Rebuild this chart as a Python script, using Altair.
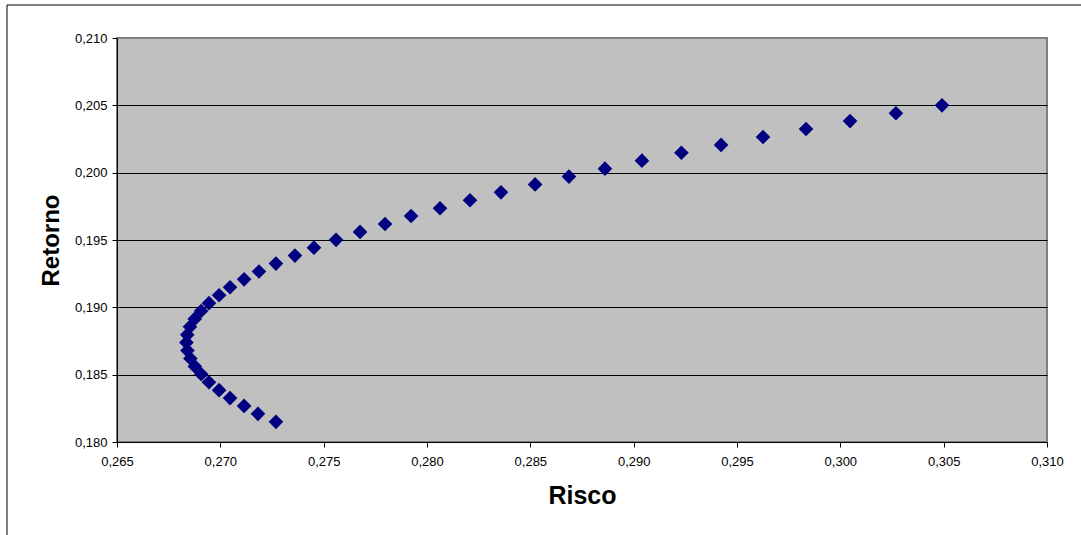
import altair as alt
import pandas as pd

# Efficient frontier points (bottom to top)
risco = [0.27269, 0.27182, 0.27115, 0.27047, 0.26994, 0.26945, 0.26908, 0.26877,
         0.26855, 0.26841, 0.26836, 0.26840, 0.26853, 0.26876, 0.26907, 0.26945,
         0.26994, 0.27047, 0.27115, 0.27187, 0.27269, 0.27361, 0.27453, 0.27560,
         0.27676, 0.27797, 0.27923, 0.28063, 0.28208, 0.28358, 0.28523, 0.28687,
         0.28861, 0.29040, 0.29231, 0.29423, 0.29626, 0.29834, 0.30047, 0.30269,
         0.30492]
retorno = [0.18150, 0.18209, 0.18268, 0.18326, 0.18385, 0.18444, 0.18503, 0.18561,
           0.18620, 0.18679, 0.18738, 0.18796, 0.18855, 0.18914, 0.18973, 0.19031,
           0.19090, 0.19149, 0.19208, 0.19266, 0.19325, 0.19384, 0.19443, 0.19501,
           0.19560, 0.19619, 0.19678, 0.19736, 0.19795, 0.19854, 0.19913, 0.19971,
           0.20030, 0.20089, 0.20148, 0.20206, 0.20265, 0.20324, 0.20383, 0.20441,
           0.20500]
x_ticks = [0.265, 0.270, 0.275, 0.280, 0.285, 0.290, 0.295, 0.300, 0.305, 0.310]
y_ticks = [0.180, 0.185, 0.190, 0.195, 0.200, 0.205, 0.210]

df = pd.DataFrame({"Risco": risco, "Retorno": retorno})

FONT = "Liberation Sans, Arial, Helvetica, sans-serif"
comma = "replace(format(datum.value, '.3f'), '.', ',')"

points = alt.Chart(df).mark_point(
    shape="diamond", filled=True, color="#000080", opacity=1, size=215
).encode(
    x=alt.X("Risco:Q",
            scale=alt.Scale(domain=[0.265, 0.310], nice=False, zero=False),
            axis=alt.Axis(values=x_ticks, labelExpr=comma, grid=False,
                          title="Risco", titleFontSize=25, titleFontWeight="bold",
                          titleFont=FONT, titleColor="black",
                          titleBaseline="alphabetic", titleY=61, titleX=465,
                          labelFont=FONT, labelFontSize=13, labelColor="black",
                          labelPadding=8, tickSize=5, tickColor="black",
                          domainColor="black", domainWidth=1, labelFlush=False)),
    y=alt.Y("Retorno:Q",
            scale=alt.Scale(domain=[0.180, 0.210], nice=False, zero=False),
            axis=alt.Axis(values=y_ticks, labelExpr=comma, grid=True,
                          gridColor={"condition": {"test": "datum.value > 0.2099 || datum.value < 0.1801",
                                                   "value": "transparent"},
                                     "value": "black"},
                          gridWidth=1,
                          title="Retorno", titleFontSize=24, titleFontWeight="bold",
                          titleFont=FONT, titleColor="black",
                          titleBaseline="alphabetic", titleAngle=-90,
                          titleX=-59, titleY=202, titleAlign="center",
                          labelFont=FONT, labelFontSize=13, labelColor="black",
                          labelPadding=5, tickSize=5, tickColor="black",
                          domainColor="black", domainWidth=1, labelFlush=False)),
)

frame = alt.Chart(alt.Data(values=[{"a": 1}])).mark_rect(
    fill="transparent", stroke="black", strokeWidth=1
).encode(
    x=alt.value(-110), x2=alt.value(980),
    y=alt.value(-33), y2=alt.value(520),
)

chart = alt.layer(frame, points).properties(
    width=930, height=404,
    autosize=alt.AutoSizeParams(type="none"),
    padding={"left": 117, "top": 38, "right": 34, "bottom": 93},
    background="white",
).configure_view(
    fill="#C0C0C0", stroke="#808080", strokeWidth=2
)

chart.save("out.html", embed_options={"renderer": "svg", "actions": False})
